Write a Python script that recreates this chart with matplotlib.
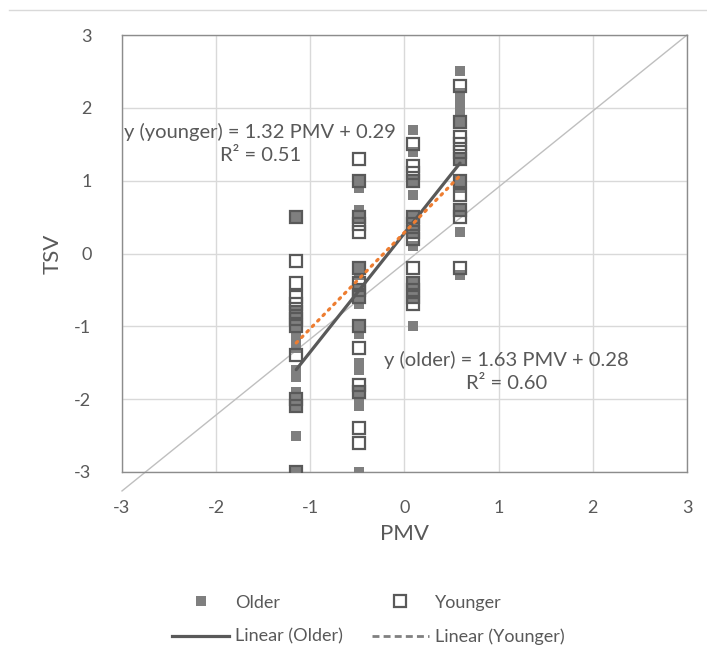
"""
TSV vs PMV scatter, older vs younger, with linear trendlines
707 x 660 px
"""
import matplotlib
matplotlib.use('Agg')
import matplotlib.pyplot as plt
from matplotlib.lines import Line2D
import numpy as np

plt.rcParams['font.family'] = ['Lato', 'DejaVu Sans']
plt.rcParams['axes.unicode_minus'] = False

TEXT = '#595959'
GRID = '#D9D9D9'

# ── data ──────────────────────────────────────────────────────────────────────
pmv_levels = [-1.15, -0.48, 0.09, 0.59]

older_tsv = [
    [0.5, -0.8, -1.0, -1.1, -1.2, -1.3, -1.6, -1.7, -1.9, -2.0, -2.1, -2.5, -3.0],
    [1.0, 0.9, 0.6, 0.5, -0.2, -0.3, -0.5, -0.6, -0.7, -1.0, -1.1, -1.5, -1.6,
     -1.9, -2.0, -2.1, -3.0],
    [1.7, 1.4, 1.0, 0.8, 0.5, 0.4, 0.3, 0.1, -0.4, -0.5, -0.6, -1.0],
    [2.5, 2.2, 2.1, 2.0, 1.9, 1.8, 1.3, 1.0, 0.9, 0.6, 0.3, -0.3],
]
younger_tsv = [
    [0.5, -0.1, -0.4, -0.6, -0.7, -0.8, -0.9, -1.0, -1.4, -2.0, -2.1, -3.0],
    [1.3, 1.0, 0.5, 0.4, 0.3, -0.2, -0.4, -0.5, -0.6, -1.0, -1.3, -1.8, -1.9,
     -2.4, -2.6],
    [1.5, 1.2, 1.1, 1.0, 0.5, 0.4, 0.3, 0.2, -0.2, -0.4, -0.5, -0.6, -0.7],
    [2.3, 1.8, 1.6, 1.5, 1.4, 1.3, 1.0, 0.8, 0.6, 0.5, -0.2],
]

# trendline coefficients (slope, intercept, R2) as printed on the chart
older_fit = (1.63, 0.28, 0.60)
younger_fit = (1.32, 0.29, 0.51)

# reference line end points
ref_x = [-3, 3]
ref_y = [-3.26, 3]


def flatten(levels, groups):
    xs, ys = [], []
    for x, g in zip(levels, groups):
        xs += [x] * len(g)
        ys += list(g)
    return np.array(xs), np.array(ys)


ox, oy = flatten(pmv_levels, older_tsv)
yx, yy = flatten(pmv_levels, younger_tsv)

# ── figure ────────────────────────────────────────────────────────────────────
fig = plt.figure(figsize=(7.07, 6.60), dpi=100)
ax = fig.add_axes([122 / 707, 1 - 472 / 660, 565 / 707, 437 / 660])

ax.set_xlim(-3, 3)
ax.set_ylim(-3, 3)
ax.set_xticks(range(-3, 4))
ax.set_yticks(range(-3, 4))
ax.grid(True, color=GRID, lw=1.0)
ax.set_axisbelow(True)
for s in ax.spines.values():
    s.set_color('#8C8C8C')
    s.set_linewidth(1.0)
ax.tick_params(length=0, labelsize=13, colors=TEXT)
ax.tick_params(axis='x', pad=20)
ax.tick_params(axis='y', pad=22)

# reference line (extends past the plot frame at the bottom left)
ax.plot(ref_x, ref_y, color='#BFBFBF', lw=1.0, clip_on=False, zorder=2)

ax.plot(ox, oy, 's', color='#7F7F7F', markersize=7, markeredgewidth=0,
        zorder=3)
ax.plot(yx, yy, 's', markerfacecolor='none', markeredgecolor='#595959',
        markersize=8.5, markeredgewidth=1.6, zorder=4)

# trendlines over the data range
xr = np.array([min(pmv_levels), max(pmv_levels)])
ax.plot(xr, np.polyval(older_fit[:2], xr), color='#595959', lw=2.3,
        solid_capstyle='round', zorder=5)
ax.plot(xr, np.polyval(younger_fit[:2], xr), color='#ED7D31', lw=2.3,
        linestyle=(0, (0.6, 1.8)), dash_capstyle='round', zorder=5)

ax.text(-1.53, 1.51,
        f'y (younger) = {younger_fit[0]:.2f} PMV + {younger_fit[1]:.2f}\n'
        f'R² = {younger_fit[2]:.2f}',
        ha='center', va='center', multialignment='center', fontsize=14.5,
        color=TEXT, linespacing=1.45, zorder=6)
ax.text(1.08, -1.62,
        f'y (older) = {older_fit[0]:.2f} PMV + {older_fit[1]:.2f}\n'
        f'R² = {older_fit[2]:.2f}',
        ha='center', va='center', multialignment='center', fontsize=14.5,
        color=TEXT, linespacing=1.45, zorder=6)

ax.set_xlabel('PMV', fontsize=16, color=TEXT, labelpad=6)
ax.set_ylabel('TSV', fontsize=16, color=TEXT, labelpad=8)

# top border line of the chart area
fig.add_artist(Line2D([9 / 707, 1], [1 - 10 / 660, 1 - 10 / 660],
                      color=GRID, lw=1.0))

# ── legend ────────────────────────────────────────────────────────────────────
handles = [
    Line2D([], [], ls='none', marker='s', color='#7F7F7F', markersize=7,
           markeredgewidth=0),
    Line2D([], [], color='#595959', lw=2.3),
    Line2D([], [], ls='none', marker='s', markerfacecolor='none',
           markeredgecolor='#595959', markersize=8, markeredgewidth=1.6),
    Line2D([], [], color='#808080', lw=2.0, ls=(0, (2.5, 1.5))),
]
labels = ['Older', 'Linear (Older)', 'Younger', 'Linear (Younger)']
leg = fig.legend(handles, labels, loc='center', ncol=2,
                 bbox_to_anchor=(368 / 707, 1 - 620 / 660), frameon=False,
                 fontsize=13, handlelength=3.2, handletextpad=0.3,
                 columnspacing=1.6, labelspacing=1.0)
for t in leg.get_texts():
    t.set_color(TEXT)

plt.savefig('out.png', dpi=100, facecolor='white')
plt.close()
